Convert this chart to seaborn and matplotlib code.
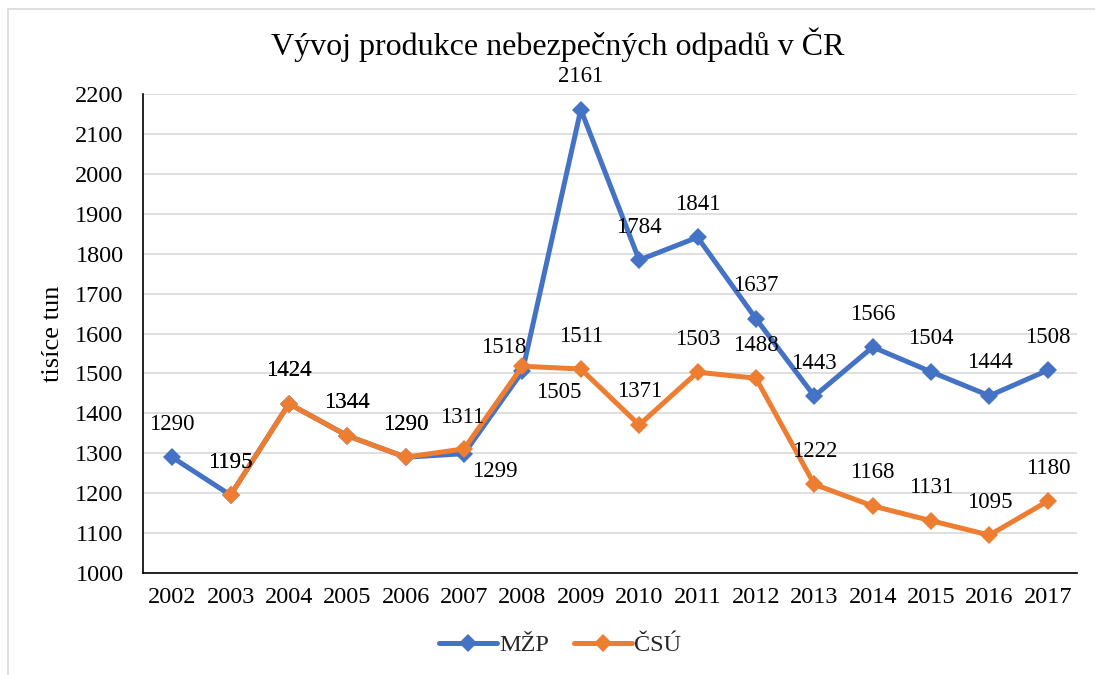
import matplotlib
matplotlib.use("Agg")
import matplotlib.pyplot as plt
from matplotlib.lines import Line2D
import seaborn as sns
import numpy as np

years = [str(y) for y in range(2002, 2018)]
mzp = [1290, 1195, 1424, 1344, 1290, 1299, 1505, 2161, 1784, 1841, 1637, 1443, 1566, 1504, 1444, 1508]
csu_years = [str(y) for y in range(2003, 2018)]
csu = [1195, 1424, 1344, 1290, 1311, 1518, 1511, 1371, 1503, 1488, 1222, 1168, 1131, 1095, 1180]
title = "Vývoj produkce nebezpečných odpadů v ČR"
ylabel = "tisíce tun"
names = ["MŽP", "ČSÚ"]

BLUE = "#4472C4"
ORANGE = "#ED7D31"

sns.set_theme(style="white")
plt.rcParams['font.family'] = ['Liberation Serif', 'DejaVu Serif']

fig = plt.figure(figsize=(10.95, 6.75), dpi=100)
ax = fig.add_axes([143/1095, 1 - 573/675, (1077-143)/1095, (573-94)/675])

xpos_m = np.array([years.index(y) for y in years])
xpos_c = np.array([years.index(y) for y in csu_years])

sns.lineplot(x=xpos_m, y=mzp, ax=ax, color=BLUE, linewidth=3.6, marker='D',
             markersize=9, markeredgewidth=0, zorder=3)
sns.lineplot(x=xpos_c, y=csu, ax=ax, color=ORANGE, linewidth=3.6, marker='D',
             markersize=9, markeredgewidth=0, zorder=4)

ax.set_xlim(-0.5, len(years) - 0.5)
ax.set_ylim(1000, 2200)
ax.set_yticks(range(1000, 2201, 100))
ax.set_xticks(range(len(years)))
ax.set_xticklabels(years)
ax.set_xticks(np.arange(-0.5, len(years), 1.0), minor=True)
ax.tick_params(axis='x', which='major', length=0, pad=10, labelsize=17.5, colors='black')
ax.tick_params(axis='x', which='minor', length=6, width=1, color='black', direction='out')
ax.tick_params(axis='y', length=0, pad=14, labelsize=17.5, colors='black')
ax.grid(axis='y', color='#D9D9D9', linewidth=1.2)
ax.grid(axis='x', visible=False)
ax.set_axisbelow(True)
for s in ['top', 'right']:
    ax.spines[s].set_visible(False)
for s in ['left', 'bottom']:
    ax.spines[s].set_color('black')
    ax.spines[s].set_linewidth(1.2)
ax.set_xlabel("")
ax.set_ylabel(ylabel, fontsize=19, labelpad=8, color='black')

# data labels (offsets in pixels)
def lab(x, v, dx=0, dy=33):
    ax.annotate(str(v), (x, v), xytext=(dx, dy), textcoords='offset pixels',
                ha='center', va='center', fontsize=16.5, color='black', zorder=6)

for x, v in zip(xpos_m, mzp):
    y = years[x]
    if y == "2007":
        lab(x, v, 31, -18)
    elif y == "2008":
        lab(x, v, 36, -21)
    else:
        lab(x, v)
for x, v in zip(xpos_c, csu):
    y = years[x]
    if y == "2008":
        lab(x, v, -19, 19)
    elif y == "2007":
        lab(x, v, -2, 31)
    else:
        lab(x, v)

fig.text(558/1095, 1 - 45/675, title, ha='center', va='center', fontsize=23, color='black')

handles = [Line2D([], [], color=BLUE, linewidth=3.6, marker='D', markersize=9, markeredgewidth=0),
           Line2D([], [], color=ORANGE, linewidth=3.6, marker='D', markersize=9, markeredgewidth=0)]
fig.legend(handles, names, loc='center', bbox_to_anchor=(560/1095, 1 - 645/675), ncol=2,
           frameon=False, fontsize=17.5, handlelength=2.4, handletextpad=0.1, columnspacing=1.0)

# outer chart border
fig.add_artist(Line2D([8/1095, 1.0], [1 - 9/675, 1 - 9/675], transform=fig.transFigure,
                      color='#D9D9D9', linewidth=1.2))
fig.add_artist(Line2D([8/1095, 8/1095], [1 - 9/675, 0.0], transform=fig.transFigure,
                      color='#D9D9D9', linewidth=1.2))

fig.savefig("out.png", dpi=100, facecolor='white')
